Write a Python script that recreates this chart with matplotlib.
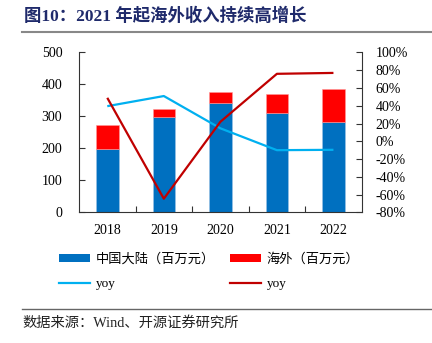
import matplotlib
matplotlib.use("Agg")
import matplotlib.pyplot as plt
from matplotlib.patches import Patch
from matplotlib.lines import Line2D
from matplotlib.ticker import FuncFormatter, MultipleLocator

plt.rcParams['font.family'] = ['Liberation Serif', 'Noto Sans CJK SC', 'DejaVu Sans']

years = ['2018', '2019', '2020', '2021', '2022']
mainland = [198, 297, 341, 310, 282]
overseas = [75, 27, 34, 59, 103]
mainland_yoy = [39.6, 51.0, 14.7, -9.9, -9.5]
overseas_yoy = [49.0, -64.5, 22.0, 76.0, 77.0]

C_BLUE = '#0070C0'
C_RED = '#FF0000'
C_LBLUE = '#00B0F0'
C_DRED = '#C00000'

fig = plt.figure(figsize=(4.32, 3.43), dpi=100)
ax = fig.add_axes([0.1829, 0.3805, 0.6544, 0.4665])
ax2 = ax.twinx()

x = range(len(years))
ax.bar(x, mainland, width=0.4, color=C_BLUE, edgecolor='#9DC3E6', linewidth=0.4, zorder=2)
ax.bar(x, overseas, width=0.4, bottom=mainland, color=C_RED, edgecolor='#FF9999', linewidth=0.4, zorder=2)

ax2.plot(x, mainland_yoy, color=C_LBLUE, lw=1.6, solid_capstyle='butt')
ax2.plot(x, overseas_yoy, color=C_DRED, lw=1.6, solid_capstyle='butt')

ax.set_xlim(-0.5, len(years) - 0.5)
ax.set_ylim(0, 500)
ax.yaxis.set_major_locator(MultipleLocator(100))
ax2.set_ylim(-80, 100)
ax2.yaxis.set_major_locator(MultipleLocator(20))
ax2.yaxis.set_major_formatter(FuncFormatter(lambda v, p: f'{v:.0f}%'))

ax.set_xticks(list(x))
ax.set_xticklabels(years)
ax.set_xticks([i + 0.5 for i in range(len(years) - 1)], minor=True)

for a in (ax, ax2):
    a.spines['top'].set_visible(False)
    for s in a.spines.values():
        s.set_color('#333333')
        s.set_linewidth(0.8)
ax.spines['right'].set_visible(False)
ax2.spines['left'].set_visible(False)
ax2.spines['bottom'].set_visible(False)

ax.tick_params(axis='y', direction='in', length=4, width=0.8, labelsize=10, pad=12, colors='#333333', labelcolor='black')
ax.tick_params(axis='x', which='major', length=0, labelsize=10, pad=8)
ax.tick_params(axis='x', which='minor', direction='in', length=4, width=0.8, colors='#333333')
ax2.tick_params(axis='y', direction='in', length=4, width=0.8, labelsize=10, pad=10, colors='#333333', labelcolor='black')

handles = [
    Patch(facecolor=C_BLUE, edgecolor='none'),
    Line2D([], [], color=C_LBLUE, lw=1.6),
    Patch(facecolor=C_RED, edgecolor='none'),
    Line2D([], [], color=C_DRED, lw=1.6),
]
labels = ['中国大陆（百万元）', 'yoy', '海外（百万元）', 'yoy']
leg = fig.legend(handles, labels, ncol=2, loc='upper left', bbox_to_anchor=(0.137, 0.262),
                 frameon=False, prop={'size': 9.5}, handlelength=2.35, handleheight=0.5,
                 handletextpad=0.45, columnspacing=1.1, labelspacing=0.95, borderaxespad=0, borderpad=0)

# title and source
fig.text(0.055, 0.953, '图10：2021 年起海外收入持续高增长', fontsize=12.5, fontweight='bold',
         color='#1F2A6B', va='center', ha='left')
fig.add_artist(Line2D([0.051, 1.0], [0.906, 0.906], color='#888888', lw=1.5, transform=fig.transFigure))
fig.add_artist(Line2D([0.051, 1.0], [0.099, 0.099], color='#666666', lw=1.0, transform=fig.transFigure))
fig.text(0.053, 0.06, '数据来源：Wind、开源证券研究所', fontsize=10.3, color='#222222', va='center', ha='left')

fig.savefig('out.png', dpi=100)
